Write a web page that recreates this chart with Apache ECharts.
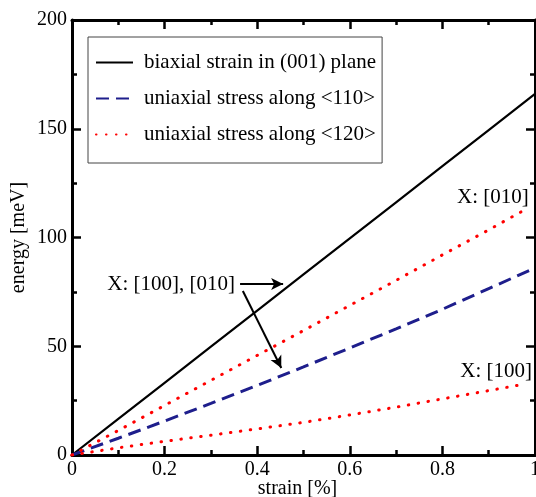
<!DOCTYPE html>
<html>
<head>
<meta charset="utf-8">
<script src="https://cdn.jsdelivr.net/npm/echarts@6/dist/echarts.min.js"></script>
<style>
  html, body { margin: 0; padding: 0; background: #fff; }
  #chart { width: 536px; height: 497px; }
</style>
</head>
<body>
<div id="chart"></div>
<script>
// values
const strainFull = [0, 0.1, 0.2, 0.3, 0.4, 0.5, 0.6, 0.7, 0.8, 0.9, 1.0];
const strainRed = [0, 0.1, 0.2, 0.3, 0.4, 0.5, 0.6, 0.7, 0.8, 0.9, 0.97];

const biaxial = [0, 16.6, 33.2, 49.8, 66.4, 83, 99.6, 116.2, 132.8, 149.4, 166];
const stress110 = [0, 7.7, 15.6, 23.7, 32, 40.5, 49.2, 58, 67, 76.5, 86];
const stress120a = [0, 11.3, 22.8, 34.3, 45.8, 57.2, 68.8, 80.3, 92, 103.5, 111.8];
const stress120b = [0, 3.3, 6.3, 9.1, 12, 15, 18.4, 22, 25.8, 29.6, 32.3];

const seriesNames = [
    'biaxial strain in (001) plane',
    'uniaxial stress along <110>',
    'uniaxial stress along <120>'
];

// annotation texts and arrows, in data units
const notes = [
    { text: 'X: [100], [010]', at: [0.214, 78.6] },
    { text: 'X: [010]', at: [0.909, 118.6] },
    { text: 'X: [100]', at: [0.916, 38.2] }
];
const arrows = [
    [[0.363, 78.6], [0.456, 78.6]],
    [[0.369, 75.4], [0.452, 40]]
];

const FONT = 'Liberation Serif';
const BLUE = '#1e1e8c';
const RED = '#ff0000';

function pairs(xs, ys) {
    return xs.map((x, i) => [x, ys[i]]);
}

function frameAxis(extra) {
    return Object.assign({
        type: 'value',
        splitLine: { show: false },
        axisLine: { show: true, onZero: false, lineStyle: { color: '#000', width: 3 } },
        axisTick: { show: true, inside: true, length: 9, lineStyle: { color: '#000', width: 2.5 } },
        minorTick: { show: true, splitNumber: 2, length: 5, lineStyle: { color: '#000', width: 2.5 } },
        axisLabel: { show: true, color: '#000', fontFamily: FONT, fontSize: 20, margin: 5 },
        nameMoveOverlap: false,
        nameTextStyle: { color: '#000', fontFamily: FONT, fontSize: 20 }
    }, extra);
}

const chart = echarts.init(document.getElementById('chart'), null, { renderer: 'canvas' });

chart.setOption({
    animation: false,
    backgroundColor: '#fff',
    grid: { left: 72, right: 1, top: 20, bottom: 42, containLabel: false, outerBoundsMode: 'none' },
    legend: {
        orient: 'vertical',
        left: 88,
        top: 37,
        padding: [15, 6, 18, 7],
        itemGap: 15,
        itemWidth: 37,
        itemHeight: 20,
        borderColor: '#444',
        borderWidth: 1,
        itemStyle: { opacity: 0 },
        textStyle: { color: '#000', fontFamily: FONT, fontSize: 21, padding: [0, 0, 0, 6] },
        data: seriesNames
    },
    xAxis: [
        frameAxis({
            min: 0, max: 1, interval: 0.2,
            name: 'strain [%]', nameLocation: 'middle', nameGap: 24,
            nameTextStyle: { color: '#000', fontFamily: FONT, fontSize: 20, padding: [0, 12, 0, 0] }
        }),
        frameAxis({
            position: 'top', min: 0, max: 1, interval: 0.2,
            axisLabel: { show: false }
        })
    ],
    yAxis: [
        frameAxis({
            min: 0, max: 200, interval: 50,
            name: 'energy [meV]', nameLocation: 'middle', nameGap: 43
        }),
        frameAxis({
            position: 'right', min: 0, max: 200, interval: 50,
            axisLabel: { show: false }
        })
    ],
    series: [
        {
            name: seriesNames[0],
            type: 'line',
            symbol: 'none',
            data: pairs(strainFull, biaxial),
            lineStyle: { color: '#000', width: 2.2 },
            itemStyle: { color: '#000' },
            markLine: {
                silent: true,
                symbol: ['none', 'arrow'],
                symbolSize: [9, 12],
                label: { show: false },
                lineStyle: { color: '#000', width: 2, type: 'solid' },
                data: arrows.map(a => [{ coord: a[0] }, { coord: a[1] }])
            },
            markPoint: {
                silent: true,
                symbol: 'circle',
                symbolSize: 1,
                itemStyle: { color: 'rgba(0,0,0,0)' },
                label: {
                    show: true, position: 'inside', color: '#000',
                    fontFamily: FONT, fontSize: 21,
                    formatter: p => p.name
                },
                data: notes.map(n => ({ name: n.text, coord: n.at }))
            }
        },
        {
            name: seriesNames[1],
            type: 'line',
            symbol: 'none',
            data: pairs(strainFull, stress110),
            lineStyle: { color: BLUE, width: 3, type: [13, 7] },
            itemStyle: { color: BLUE }
        },
        {
            name: seriesNames[2],
            type: 'line',
            symbol: 'none',
            data: pairs(strainRed, stress120a),
            lineStyle: { color: RED, width: 3, type: [0.5, 9.5], cap: 'round' },
            itemStyle: { color: RED }
        },
        {
            name: seriesNames[2],
            type: 'line',
            symbol: 'none',
            data: pairs(strainRed, stress120b),
            lineStyle: { color: RED, width: 3, type: [0.5, 9.5], cap: 'round' },
            itemStyle: { color: RED }
        }
    ]
});
</script>
</body>
</html>
